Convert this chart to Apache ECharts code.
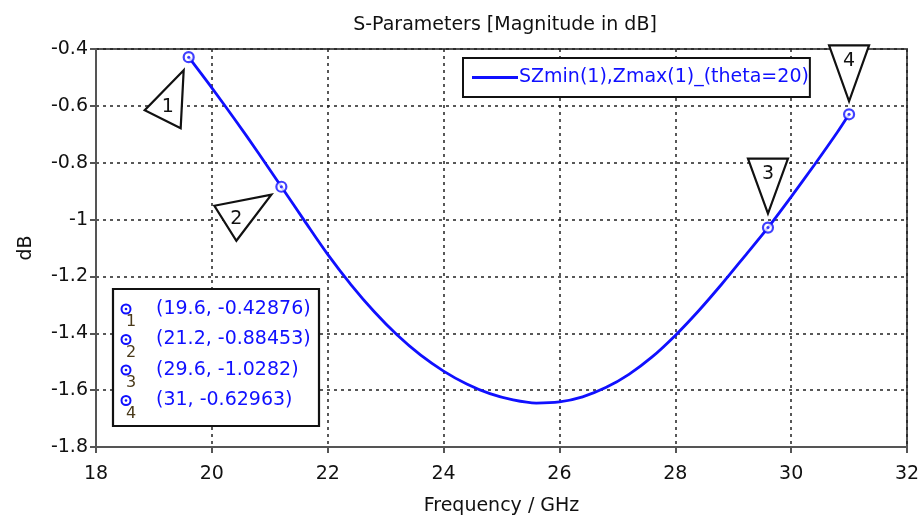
<!DOCTYPE html>
<html>
<head>
<meta charset="utf-8">
<script src="https://cdn.jsdelivr.net/npm/echarts@6/dist/echarts.min.js"></script>
<style>html,body{margin:0;padding:0;background:#fff}#c{width:920px;height:517px}</style>
</head>
<body>
<div id="c"></div>
<script>
// ---- data ----
const seriesName = 'SZmin(1),Zmax(1)_(theta=20)';
const freq = [19.6, 20.0, 20.4, 20.8, 21.2, 21.6, 22.0, 22.4, 22.8, 23.2, 23.6, 24.0, 24.4, 24.8, 25.2, 25.6, 26.0, 26.4, 26.8, 27.2, 27.6, 28.0, 28.4, 28.8, 29.2, 29.6, 30.0, 30.4, 30.8, 31.0];
const dB = [-0.42876, -0.5368, -0.6488, -0.7648, -0.88453, -1.0045, -1.1225, -1.2285, -1.3233, -1.4061, -1.4761, -1.5329, -1.5785, -1.6125, -1.6345, -1.6455, -1.6415, -1.6235, -1.5911, -1.5443, -1.4831, -1.4075, -1.3215, -1.2275, -1.1283, -1.0282, -0.920, -0.808, -0.692, -0.62963];
const markerNames = ['1', '2', '3', '4'];
const markerX = [19.6, 21.2, 29.6, 31];
const markerY = [-0.42876, -0.88453, -1.0282, -0.62963];
const xTicks = {min: 18, max: 32, interval: 2};
const yTicks = {min: -1.8, max: -0.4, interval: 0.2};

const FONT = 'DejaVu Sans';
const FS = 19;
const BLUE = '#1010ff';
const chart = echarts.init(document.getElementById('c'));
const lineData = freq.map((f, i) => [f, dB[i]]);
const markData = markerX.map((x, i) => [x, markerY[i]]);

chart.setOption({
  animation: false,
  title: {text: 'S-Parameters [Magnitude in dB]', left: 500, top: 11, textAlign: 'center',
    textStyle: {fontFamily: FONT, fontSize: FS, fontWeight: 'normal', color: '#111'}},
  grid: {left: 96, right: 13, top: 49, bottom: 70, show: true, borderColor: '#555', borderWidth: 2,
    outerBoundsMode: 'none', containLabel: false},
  legend: {left: 463, top: 58, data: [{name: seriesName, icon: 'rect'}], itemWidth: 46, itemHeight: 3,
    borderColor: '#111', borderWidth: 2, padding: [10, 1, 10, 9], backgroundColor: '#fff',
    textStyle: {fontFamily: FONT, fontSize: FS, color: BLUE, padding: [0, 0, 0, -4]}},
  xAxis: {type: 'value', min: xTicks.min, max: xTicks.max, interval: xTicks.interval,
    name: 'Frequency / GHz', nameLocation: 'middle', nameGap: 50,
    nameTextStyle: {fontFamily: FONT, fontSize: FS, color: '#111'},
    axisLine: {lineStyle: {color: '#555', width: 2}},
    axisTick: {show: true, length: 6, lineStyle: {color: '#555', width: 2}},
    axisLabel: {fontFamily: FONT, fontSize: FS, color: '#111', margin: 18},
    splitLine: {show: true, lineStyle: {color: '#222', type: [3, 4], width: 1.5}}},
  yAxis: {type: 'value', min: yTicks.min, max: yTicks.max, interval: yTicks.interval,
    name: 'dB', nameLocation: 'middle', nameGap: 60, nameRotate: 90,
    nameTextStyle: {fontFamily: FONT, fontSize: FS, color: '#111'},
    axisLine: {show: true, lineStyle: {color: '#555', width: 2}},
    axisTick: {show: true, length: 6, lineStyle: {color: '#555', width: 2}},
    axisLabel: {fontFamily: FONT, fontSize: FS, color: '#111', margin: 8,
      formatter: v => String(Math.round(v * 10) / 10)},
    splitLine: {show: true, lineStyle: {color: '#222', type: [3, 4], width: 1.5}}},
  series: [
    {name: seriesName, type: 'line', data: lineData, smooth: 0.3, symbol: 'none',
      lineStyle: {color: BLUE, width: 2.8}, itemStyle: {color: BLUE}, z: 3},
    {name: 'mk', type: 'scatter', data: markData, symbol: 'circle', symbolSize: 10,
      itemStyle: {color: '#fff', borderColor: BLUE, borderWidth: 2.2}, z: 4},
    {name: 'mkdot', type: 'scatter', data: markData, symbol: 'circle', symbolSize: 3,
      itemStyle: {color: BLUE}, z: 5}
  ]
});

// callout triangles (offsets relative to the marker positions)
const callouts = [
  {pts: [[-5, 13], [-44, 53], [-8, 71]], lab: [-21, 50]},
  {pts: [[-67, 19], [-10, 8], [-45, 54]], lab: [-45, 32]},
  {pts: [[-20, -69], [20, -69], [0, -14]], lab: [0, -54]},
  {pts: [[-20, -69], [20, -69], [0, -13]], lab: [0, -53]}
];
const g = [];
markData.forEach((d, i) => {
  const p = chart.convertToPixel({gridIndex: 0}, d);
  const c = callouts[i];
  g.push({type: 'polygon', shape: {points: c.pts.map(o => [p[0] + o[0], p[1] + o[1]])},
    style: {fill: '#fff', stroke: '#111', lineWidth: 2.2}, z: 10});
  g.push({type: 'text', x: p[0] + c.lab[0], y: p[1] + c.lab[1],
    style: {text: markerNames[i], fontFamily: FONT, fontSize: FS, fill: '#111', align: 'center', verticalAlign: 'middle'}, z: 11});
});
// marker table
const boxL = 113, boxT = 289, rowH = 30.5;
g.push({type: 'rect', shape: {x: boxL, y: boxT, width: 206, height: 137},
  style: {fill: '#fff', stroke: '#111', lineWidth: 2.2}, z: 10});
markerNames.forEach((n, i) => {
  const cy = boxT + 20 + i * rowH;
  g.push({type: 'circle', shape: {cx: boxL + 13, cy: cy, r: 4.5}, style: {fill: '#fff', stroke: BLUE, lineWidth: 2}, z: 11});
  g.push({type: 'circle', shape: {cx: boxL + 13, cy: cy, r: 1.3}, style: {fill: BLUE}, z: 12});
  g.push({type: 'text', x: boxL + 18, y: cy + 13, style: {text: n, fontFamily: FONT, fontSize: 16, fill: '#4a3a1a', align: 'center', verticalAlign: 'middle'}, z: 12});
  g.push({type: 'text', x: boxL + 43, y: cy, style: {text: '(' + markerX[i] + ', ' + markerY[i] + ')', fontFamily: FONT, fontSize: FS, fill: BLUE, align: 'left', verticalAlign: 'middle'}, z: 12});
});
chart.setOption({graphic: g});
</script>
</body>
</html>
